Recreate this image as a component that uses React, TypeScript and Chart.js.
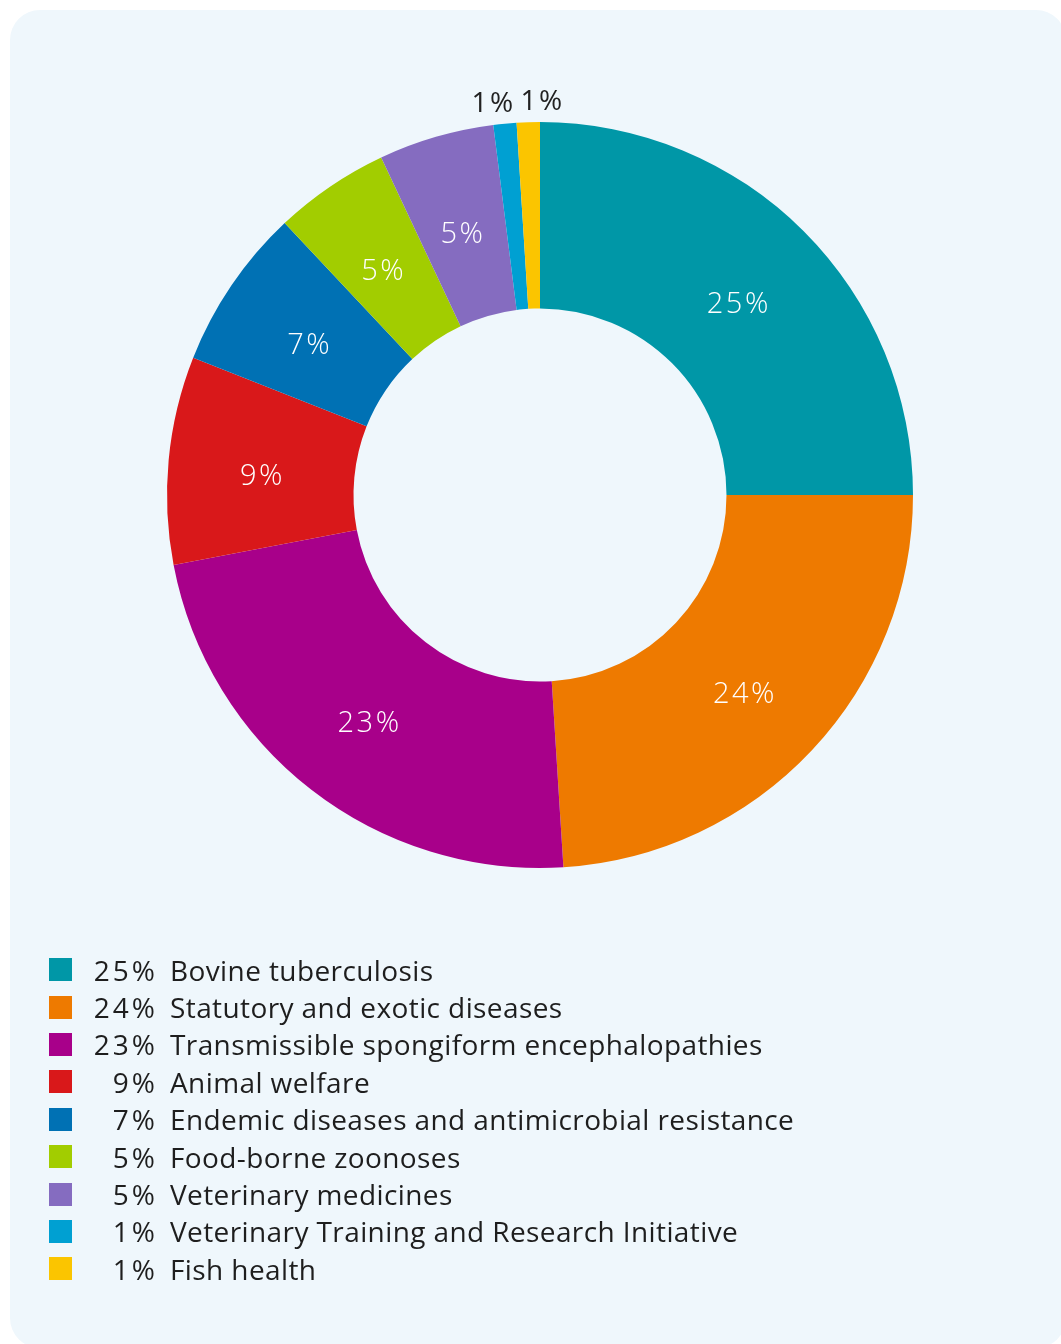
import React, { useEffect, useRef } from "react";
import { Chart, registerables } from "chart.js";

Chart.register(...registerables);

const categories = [
  "Bovine tuberculosis",
  "Statutory and exotic diseases",
  "Transmissible spongiform encephalopathies",
  "Animal welfare",
  "Endemic diseases and antimicrobial resistance",
  "Food-borne zoonoses",
  "Veterinary medicines",
  "Veterinary Training and Research Initiative",
  "Fish health",
];
const values = [25, 24, 23, 9, 7, 5, 5, 1, 1];
const colors = [
  "#0097a7",
  "#ee7a00",
  "#a8008a",
  "#d9181a",
  "#0071b4",
  "#a2cd00",
  "#856cc0",
  "#00a0d2",
  "#fbc500",
];

const FONT = "'Open Sans', 'Noto Sans', sans-serif";

const labelPlugin = {
  id: "sliceLabels",
  afterDatasetsDraw(chart: any) {
    const ctx = chart.ctx;
    const meta = chart.getDatasetMeta(0);
    ctx.save();
    ctx.textAlign = "center";
    ctx.textBaseline = "middle";
    try {
      (ctx as any).letterSpacing = "2.5px";
    } catch (e) {}
    const smallOffsets = [-9, 15];
    let smallIdx = 0;
    meta.data.forEach((arc: any, i: number) => {
      const v = values[i];
      const { x, y, startAngle, endAngle, innerRadius, outerRadius } = arc.getProps(
        ["x", "y", "startAngle", "endAngle", "innerRadius", "outerRadius"],
        true
      );
      const mid = (startAngle + endAngle) / 2;
      if (v >= 3) {
        const r = (innerRadius + outerRadius) / 2;
        ctx.font = `300 29px ${FONT}`;
        ctx.fillStyle = "#ffffff";
        ctx.fillText(`${v}%`, x + Math.cos(mid) * r + 1, y + Math.sin(mid) * r + 8);
      } else {
        const r = outerRadius + 24;
        ctx.font = `400 28px ${FONT}`;
        ctx.fillStyle = "#222222";
        const dx = smallOffsets[smallIdx++] || 0;
        ctx.fillText(`${v}%`, x + Math.cos(mid) * r + dx, y + Math.sin(mid) * r + 4);
      }
    });
    ctx.restore();
  },
};

export default function App() {
  const ref = useRef<HTMLCanvasElement>(null);
  useEffect(() => {
    document.body.style.margin = "0";
    const chart = new Chart(ref.current!, {
      type: "doughnut",
      data: {
        labels: categories,
        datasets: [
          {
            data: values,
            backgroundColor: colors,
            borderWidth: 0,
          },
        ],
      },
      options: {
        animation: false,
        responsive: false,
        cutout: "50%",
        layout: { padding: { left: 167, top: 122, right: 148, bottom: 476 } },
        plugins: {
          legend: { display: false },
          tooltip: { enabled: false },
        },
      },
      plugins: [labelPlugin],
    });
    return () => chart.destroy();
  }, []);

  return (
    <div style={{ position: "relative", width: 1061, height: 1344, overflow: "hidden", background: "#ffffff" }}>
      <div
        style={{
          position: "absolute",
          left: 10,
          top: 10,
          width: 1056,
          height: 1338,
          borderRadius: 30,
          background: "#eff7fc",
        }}
      />
      <canvas ref={ref} width={1061} height={1344} style={{ position: "absolute", left: 0, top: 0 }} />
      <div
        style={{
          position: "absolute",
          left: 49,
          top: 951,
          fontFamily: FONT,
          fontSize: 28,
          fontWeight: 400,
          color: "#1e1e1e",
          whiteSpace: "nowrap",
        }}
      >
        {categories.map((c, i) => (
          <div key={c} style={{ display: "flex", alignItems: "center", height: 37.4 }}>
            <span style={{ width: 23, height: 23, background: colors[i], display: "inline-block", flex: "none" }} />
            <span style={{ width: 86, textAlign: "right", display: "inline-block", letterSpacing: "3px", flex: "none" }}>
              {values[i]}%
            </span>
            <span style={{ marginLeft: 12, letterSpacing: "0.4px" }}>{c}</span>
          </div>
        ))}
      </div>
    </div>
  );
}
